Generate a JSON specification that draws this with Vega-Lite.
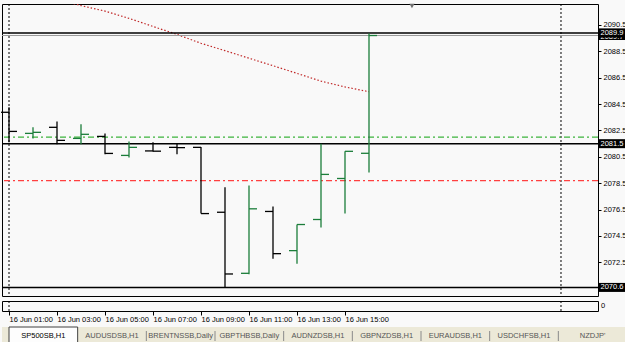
{
  "$schema": "https://vega.github.io/schema/vega-lite/v6.json",
  "background": "#f9f9f9",
  "padding": {"left": 0, "top": 3, "right": 0, "bottom": 0},
  "spacing": 3,
  "config": {
    "font": "Liberation Sans",
    "view": {"stroke": "#000000", "strokeWidth": 1},
    "axis": {"labelFont": "Liberation Sans", "labelFontSize": 7.5, "labelColor": "#000000", "tickColor": "#000000", "domain": false, "grid": false, "labelOverlap": false, "labelBound": false, "labelSeparation": 0},
    "axisY": {"labelOverlap": false},
    "axisQuantitative": {"labelOverlap": false}
  },
  "datasets": {
    "bars": [
      {"h": 1, "open": 2083.88, "high": 2084.26, "low": 2081.6, "close": 2082.43},
      {"h": 2, "open": 2082.28, "high": 2082.74, "low": 2081.9, "close": 2082.36},
      {"h": 3, "open": 2082.74, "high": 2083.19, "low": 2081.45, "close": 2081.75},
      {"h": 4, "open": 2081.9, "high": 2082.97, "low": 2081.45, "close": 2082.21},
      {"h": 5, "open": 2082.05, "high": 2082.28, "low": 2080.69, "close": 2080.76},
      {"h": 6, "open": 2080.61, "high": 2081.67, "low": 2080.46, "close": 2081.22},
      {"h": 7, "open": 2080.95, "high": 2081.6, "low": 2080.91, "close": 2080.93},
      {"h": 8, "open": 2081.22, "high": 2081.52, "low": 2080.69, "close": 2081.2},
      {"h": 9, "open": 2081.22, "high": 2081.25, "low": 2076.2, "close": 2076.2},
      {"h": 10, "open": 2076.3, "high": 2078.2, "low": 2070.6, "close": 2071.62},
      {"h": 11, "open": 2071.67, "high": 2078.33, "low": 2071.6, "close": 2076.56},
      {"h": 12, "open": 2076.36, "high": 2076.73, "low": 2072.78, "close": 2073.16},
      {"h": 13, "open": 2073.39, "high": 2075.37, "low": 2072.4, "close": 2075.37},
      {"h": 14, "open": 2075.75, "high": 2081.5, "low": 2075.14, "close": 2079.17},
      {"h": 15, "open": 2078.86, "high": 2080.92, "low": 2076.2, "close": 2080.92},
      {"h": 16, "open": 2080.77, "high": 2089.85, "low": 2079.32, "close": 2089.7}
    ],
    "curve": [
      {"h": 1, "price": 2093.3},
      {"h": 2, "price": 2092.9},
      {"h": 3, "price": 2092.45},
      {"h": 4, "price": 2091.97},
      {"h": 5, "price": 2091.55},
      {"h": 6, "price": 2091.0},
      {"h": 7, "price": 2090.39},
      {"h": 8, "price": 2089.78},
      {"h": 9, "price": 2089.11},
      {"h": 10, "price": 2088.55},
      {"h": 11, "price": 2087.98},
      {"h": 12, "price": 2087.41},
      {"h": 13, "price": 2086.83},
      {"h": 14, "price": 2086.24},
      {"h": 15, "price": 2085.8},
      {"h": 16, "price": 2085.44}
    ],
    "separators": [{"h": 1}, {"h": 24}],
    "levels": [
      {"price": 2089.9, "label": "2089.9"},
      {"price": 2081.5, "label": "2081.5"},
      {"price": 2070.6, "label": "2070.6"}
    ],
    "bid": [{"price": 2089.7, "label": "2089.7"}],
    "marker": [{"h": 17.79, "price": 2091.94}],
    "indicator": [{"v": 0, "label": "0"}],
    "tabs": [
      {"tab": "SP500SB,H1"},
      {"tab": "AUDUSDSB,H1"},
      {"tab": "BRENTNSSB,Daily"},
      {"tab": "GBPTHBSB,Daily"},
      {"tab": "AUDNZDSB,H1"},
      {"tab": "GBPNZDSB,H1"},
      {"tab": "EURAUDSB,H1"},
      {"tab": "USDCHFSB,H1"},
      {"tab": "NZDJP'"}
    ]
  },
  "vconcat": [
    {
      "width": 596,
      "height": 292,
      "resolve": {"axis": {"x": "independent", "y": "independent"}},
      "layer": [
        {
          "data": {"name": "separators"},
          "mark": {"type": "rule", "color": "#000000", "strokeDash": [2, 2], "strokeWidth": 1},
          "encoding": {
            "x": {"field": "h", "type": "quantitative", "title": null, "scale": {"domain": [0.70833, 25.54167], "nice": false, "zero": false}, "axis": null}
          }
        },
        {
          "data": {"values": [{"price": 2082.0}]},
          "mark": {"type": "rule", "color": "#3cb43c", "strokeDash": [6, 3, 2, 3], "strokeWidth": 1.2},
          "encoding": {
            "y": {"field": "price", "type": "quantitative", "title": null,
              "scale": {"domain": [2069.95, 2092.09], "nice": false, "zero": false},
              "axis": {"orient": "right", "values": [2072.5, 2074.5, 2076.5, 2078.5, 2080.5, 2082.5, 2084.5, 2086.5, 2088.5, 2090.5], "format": ".1f", "tickSize": 3, "labelPadding": 2, "labelOverlap": false, "labelBound": false, "title": null}}
          }
        },
        {
          "data": {"values": [{"price": 2078.7}]},
          "mark": {"type": "rule", "color": "#ff4040", "strokeDash": [6, 3, 2, 3], "strokeWidth": 1.2},
          "encoding": {"y": {"field": "price", "type": "quantitative", "title": null, "axis": null}}
        },
        {
          "data": {"name": "curve"},
          "mark": {"type": "line", "color": "#c02828", "strokeDash": [1.5, 2], "strokeWidth": 1.2, "clip": true},
          "encoding": {
            "x": {"field": "h", "type": "quantitative", "title": null, "axis": null},
            "y": {"field": "price", "type": "quantitative", "title": null, "axis": null}
          }
        },
        {
          "data": {"name": "marker"},
          "mark": {"type": "point", "shape": "triangle-down", "filled": true, "color": "#707070", "size": 26, "opacity": 1},
          "encoding": {
            "x": {"field": "h", "type": "quantitative", "title": null, "axis": null},
            "y": {"field": "price", "type": "quantitative", "title": null, "axis": null}
          }
        },
        {
          "data": {"name": "bid"},
          "mark": {"type": "rule", "color": "#9a9a9a", "strokeWidth": 1},
          "encoding": {"y": {"field": "price", "type": "quantitative", "title": null, "axis": null}}
        },
        {
          "data": {"name": "levels"},
          "mark": {"type": "rule", "color": "#000000", "strokeWidth": 1.5},
          "encoding": {"y": {"field": "price", "type": "quantitative", "title": null, "axis": null}}
        },
        {
          "data": {"name": "bars"},
          "mark": {"type": "rule", "strokeWidth": 1.3},
          "encoding": {
            "x": {"field": "h", "type": "quantitative", "title": null, "axis": null},
            "y": {"field": "low", "type": "quantitative", "title": null, "axis": null},
            "y2": {"field": "high"},
            "color": {"condition": {"test": "datum.close > datum.open", "value": "#1b7d3a"}, "value": "#000000"}
          }
        },
        {
          "data": {"name": "bars"},
          "mark": {"type": "tick", "orient": "horizontal", "size": 8, "thickness": 1.3, "xOffset": -4, "opacity": 1},
          "encoding": {
            "x": {"field": "h", "type": "quantitative", "title": null, "axis": null},
            "y": {"field": "open", "type": "quantitative", "title": null, "axis": null},
            "color": {"condition": {"test": "datum.close > datum.open", "value": "#1b7d3a"}, "value": "#000000"}
          }
        },
        {
          "data": {"name": "bars"},
          "mark": {"type": "tick", "orient": "horizontal", "size": 8, "thickness": 1.3, "xOffset": 4, "opacity": 1},
          "encoding": {
            "x": {"field": "h", "type": "quantitative", "title": null, "axis": null},
            "y": {"field": "close", "type": "quantitative", "title": null, "axis": null},
            "color": {"condition": {"test": "datum.close > datum.open", "value": "#1b7d3a"}, "value": "#000000"}
          }
        },
        {
          "data": {"name": "bid"},
          "mark": {"type": "tick", "orient": "horizontal", "size": 27, "thickness": 9, "xOffset": 14.5, "color": "#000000", "opacity": 1, "clip": false},
          "encoding": {
            "x": {"datum": 25.54167, "type": "quantitative", "axis": null},
            "y": {"field": "price", "type": "quantitative", "title": null, "axis": null}
          }
        },
        {
          "data": {"name": "bid"},
          "mark": {"type": "text", "align": "left", "baseline": "middle", "dx": 2.5, "dy": 1, "color": "#ffffff", "fontSize": 7.5, "clip": false},
          "encoding": {
            "x": {"datum": 25.54167, "type": "quantitative", "axis": null},
            "y": {"field": "price", "type": "quantitative", "title": null, "axis": null},
            "text": {"field": "label"}
          }
        },
        {
          "data": {"name": "levels"},
          "mark": {"type": "tick", "orient": "horizontal", "size": 27, "thickness": 9, "xOffset": 14.5, "color": "#000000", "opacity": 1, "clip": false},
          "encoding": {
            "x": {"datum": 25.54167, "type": "quantitative", "axis": null},
            "y": {"field": "price", "type": "quantitative", "title": null, "axis": null}
          }
        },
        {
          "data": {"name": "levels"},
          "mark": {"type": "text", "align": "left", "baseline": "middle", "dx": 2.5, "color": "#ffffff", "fontSize": 7.5, "clip": false},
          "encoding": {
            "x": {"datum": 25.54167, "type": "quantitative", "axis": null},
            "y": {"field": "price", "type": "quantitative", "title": null, "axis": null},
            "text": {"field": "label"}
          }
        }
      ]
    },
    {
      "width": 596,
      "height": 10,
      "resolve": {"axis": {"x": "independent", "y": "independent"}},
      "layer": [
        {
          "data": {"name": "separators"},
          "mark": {"type": "rule", "color": "#000000", "strokeDash": [2, 2], "strokeWidth": 1},
          "encoding": {
            "x": {"field": "h", "type": "quantitative", "title": null,
              "scale": {"domain": [0.70833, 25.54167], "nice": false, "zero": false},
              "axis": {"values": [1, 3, 5, 7, 9, 11, 13, 15], "labelExpr": "'16 Jun ' + (datum.value < 10 ? '0' : '') + datum.value + ':00'", "labelAlign": "left", "labelBaseline": "top", "labelPadding": 0, "labelDx": 1.5, "tickSize": 4, "labelFlush": false, "labelOverlap": false, "title": null}}
          }
        },
        {
          "data": {"name": "indicator"},
          "mark": {"type": "text", "align": "left", "baseline": "middle", "dx": 3, "fontSize": 7.5, "color": "#000000", "clip": false},
          "encoding": {
            "x": {"datum": 25.54167, "type": "quantitative", "axis": null},
            "y": {"field": "v", "type": "quantitative", "title": null, "scale": {"domain": [-1, 1], "nice": false, "zero": false}, "axis": null},
            "text": {"field": "label"}
          }
        }
      ]
    },
    {
      "width": 625,
      "height": 18,
      "view": {"fill": "#ece9d8", "stroke": null},
      "data": {"name": "tabs"},
      "layer": [
        {
          "transform": [{"filter": "datum.tab == 'SP500SB,H1'"}],
          "mark": {"type": "bar", "fill": "#fdfdfd", "stroke": "#404040", "strokeWidth": 1},
          "encoding": {
            "x": {"field": "tab", "type": "nominal", "title": null,
              "scale": {"domain": ["SP500SB,H1", "AUDUSDSB,H1", "BRENTNSSB,Daily", "GBPTHBSB,Daily", "AUDNZDSB,H1", "GBPNZDSB,H1", "EURAUDSB,H1", "USDCHFSB,H1", "NZDJP'"], "range": [7, 625], "paddingInner": 0, "paddingOuter": 0}, "axis": null}
          }
        },
        {
          "transform": [{"filter": "datum.tab != 'SP500SB,H1' && datum.tab != 'AUDUSDSB,H1'"}],
          "mark": {"type": "rule", "color": "#8a8a8a", "strokeWidth": 1},
          "encoding": {
            "x": {"field": "tab", "type": "nominal", "title": null, "bandPosition": 0, "axis": null},
            "y": {"datum": 4, "type": "quantitative", "scale": {"domain": [0, 18]}, "axis": null},
            "y2": {"datum": 14}
          }
        },
        {
          "mark": {"type": "text", "fontSize": 7.5, "baseline": "middle", "align": "center"},
          "encoding": {
            "x": {"field": "tab", "type": "nominal", "title": null, "axis": null},
            "text": {"field": "tab"},
            "color": {"condition": {"test": "datum.tab == 'SP500SB,H1'", "value": "#000000"}, "value": "#555555"}
          }
        }
      ]
    }
  ]
}
